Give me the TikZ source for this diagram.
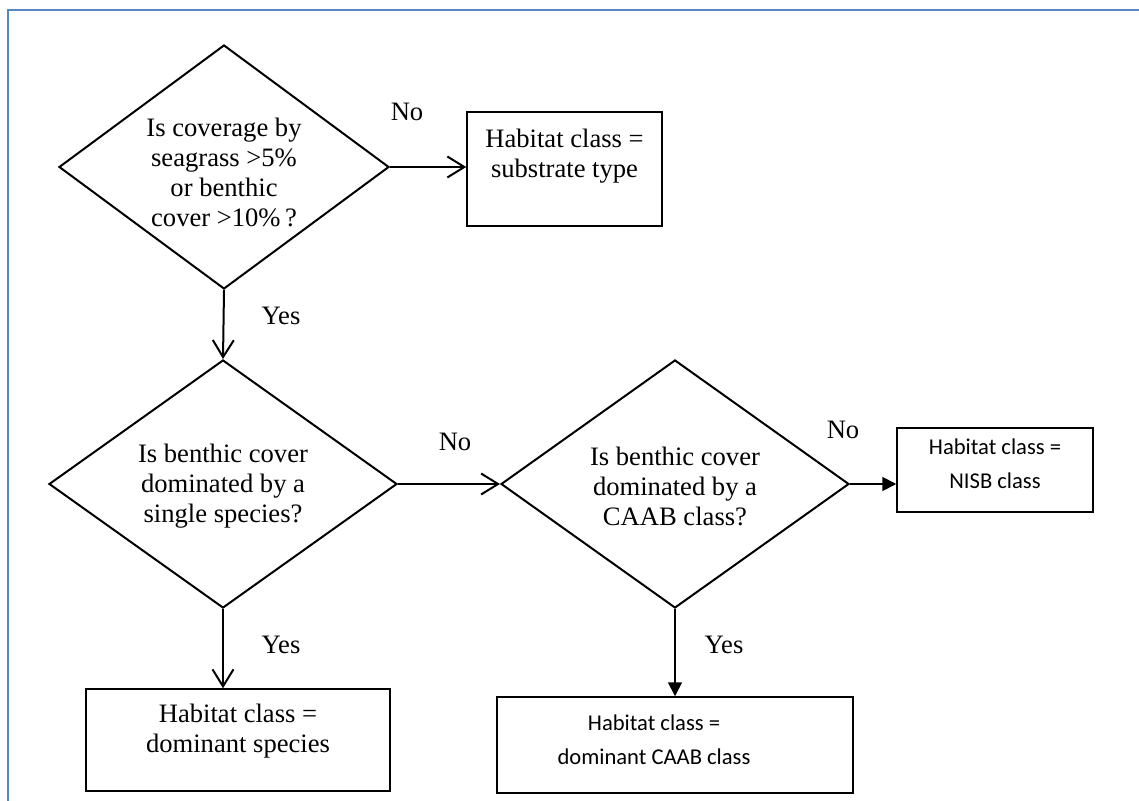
\documentclass[tikz,border=0pt]{standalone}
\usepackage{fontspec}
\setmainfont{Liberation Serif}
\newfontfamily\calibri{Carlito}
\usetikzlibrary{shapes.geometric,arrows.meta}
\definecolor{frameblue}{RGB}{86,135,195}
\begin{document}
\begin{tikzpicture}[x=0.5pt,y=-0.5pt,
  dia/.style={draw,shape=diamond,line width=1pt,inner sep=0pt},
  box/.style={draw,rectangle,line width=0.75pt,inner sep=0pt},
  txt/.style={align=center,inner sep=0pt,font=\fontsize{13.3}{15}\selectfont},
  sanstxt/.style={align=center,inner sep=0pt,font=\calibri\fontsize{11.3}{17}\selectfont},
  lbl/.style={inner sep=0pt,font=\fontsize{13.3}{15}\selectfont},
  arr/.style={line width=1pt,-{Straight Barb[length=8.5pt,width=10.5pt,line width=1pt]}},
  arrf/.style={line width=0.9pt,-{Triangle[length=7pt,width=7pt]}}]
\useasboundingbox (0,0) rectangle (1139,801);
% frame
\draw[frameblue,line width=1.4pt] (8,801) -- (8,10) -- (1139,10);
% diamonds
\node[dia,minimum width=165pt,minimum height=122pt] (d1) at (224,167) {};
\node[dia,minimum width=174pt,minimum height=124pt] (d2) at (223,484) {};
\node[dia,minimum width=174pt,minimum height=124pt] (d3) at (675,484) {};
\node[txt] (t1) at (224,172) {Is coverage by\\seagrass >5\%\\or benthic\\cover >10\%\,?};
\node[txt] (t2) at (223,486) {Is benthic cover\\dominated by a\\single species?};
\node[txt] (t3) at (675,486) {Is benthic cover\\dominated by a\\CAAB class?};
% boxes
\node[box,minimum width=97.5pt,minimum height=57pt] (b1) at (564.5,169) {};
\node[txt] (bt1) at (564.5,156) {Habitat class =\\substrate type};
\node[box,minimum width=98pt,minimum height=42pt] (b2) at (995,470) {};
\node[sanstxt] (bt2) at (995,464) {Habitat class =\\NISB class};
\node[box,minimum width=152pt,minimum height=51pt] (b3) at (238,740) {};
\node[txt] (bt3) at (238,731) {Habitat class =\\dominant species};
\node[box,minimum width=178pt,minimum height=48pt] (b4) at (675,745) {};
\node[sanstxt] (bt4) at (654,740) {Habitat class =\\dominant CAAB class};
% connectors
\draw[arr] (d1.east) -- (d1.east -| b1.west);
\draw[arr] (d1.south) -- (d2.north);
\draw[arr] (d2.east) -- (d3.west);
\draw[arr] (d2.south) -- (d2.south |- b3.north);
\draw[arrf] (d3.east) -- (d3.east -| b2.west);
\draw[arrf] (d3.south) -- (d3.south |- b4.north);
% labels
\node[lbl] (n1) at (407,112) {No};
\node[lbl] (y1) at (281,316) {Yes};
\node[lbl] (n2) at (455,442) {No};
\node[lbl] (n3) at (843,430) {No};
\node[lbl] (y2) at (281,645) {Yes};
\node[lbl] (y3) at (724,645) {Yes};
\end{tikzpicture}
\end{document}
